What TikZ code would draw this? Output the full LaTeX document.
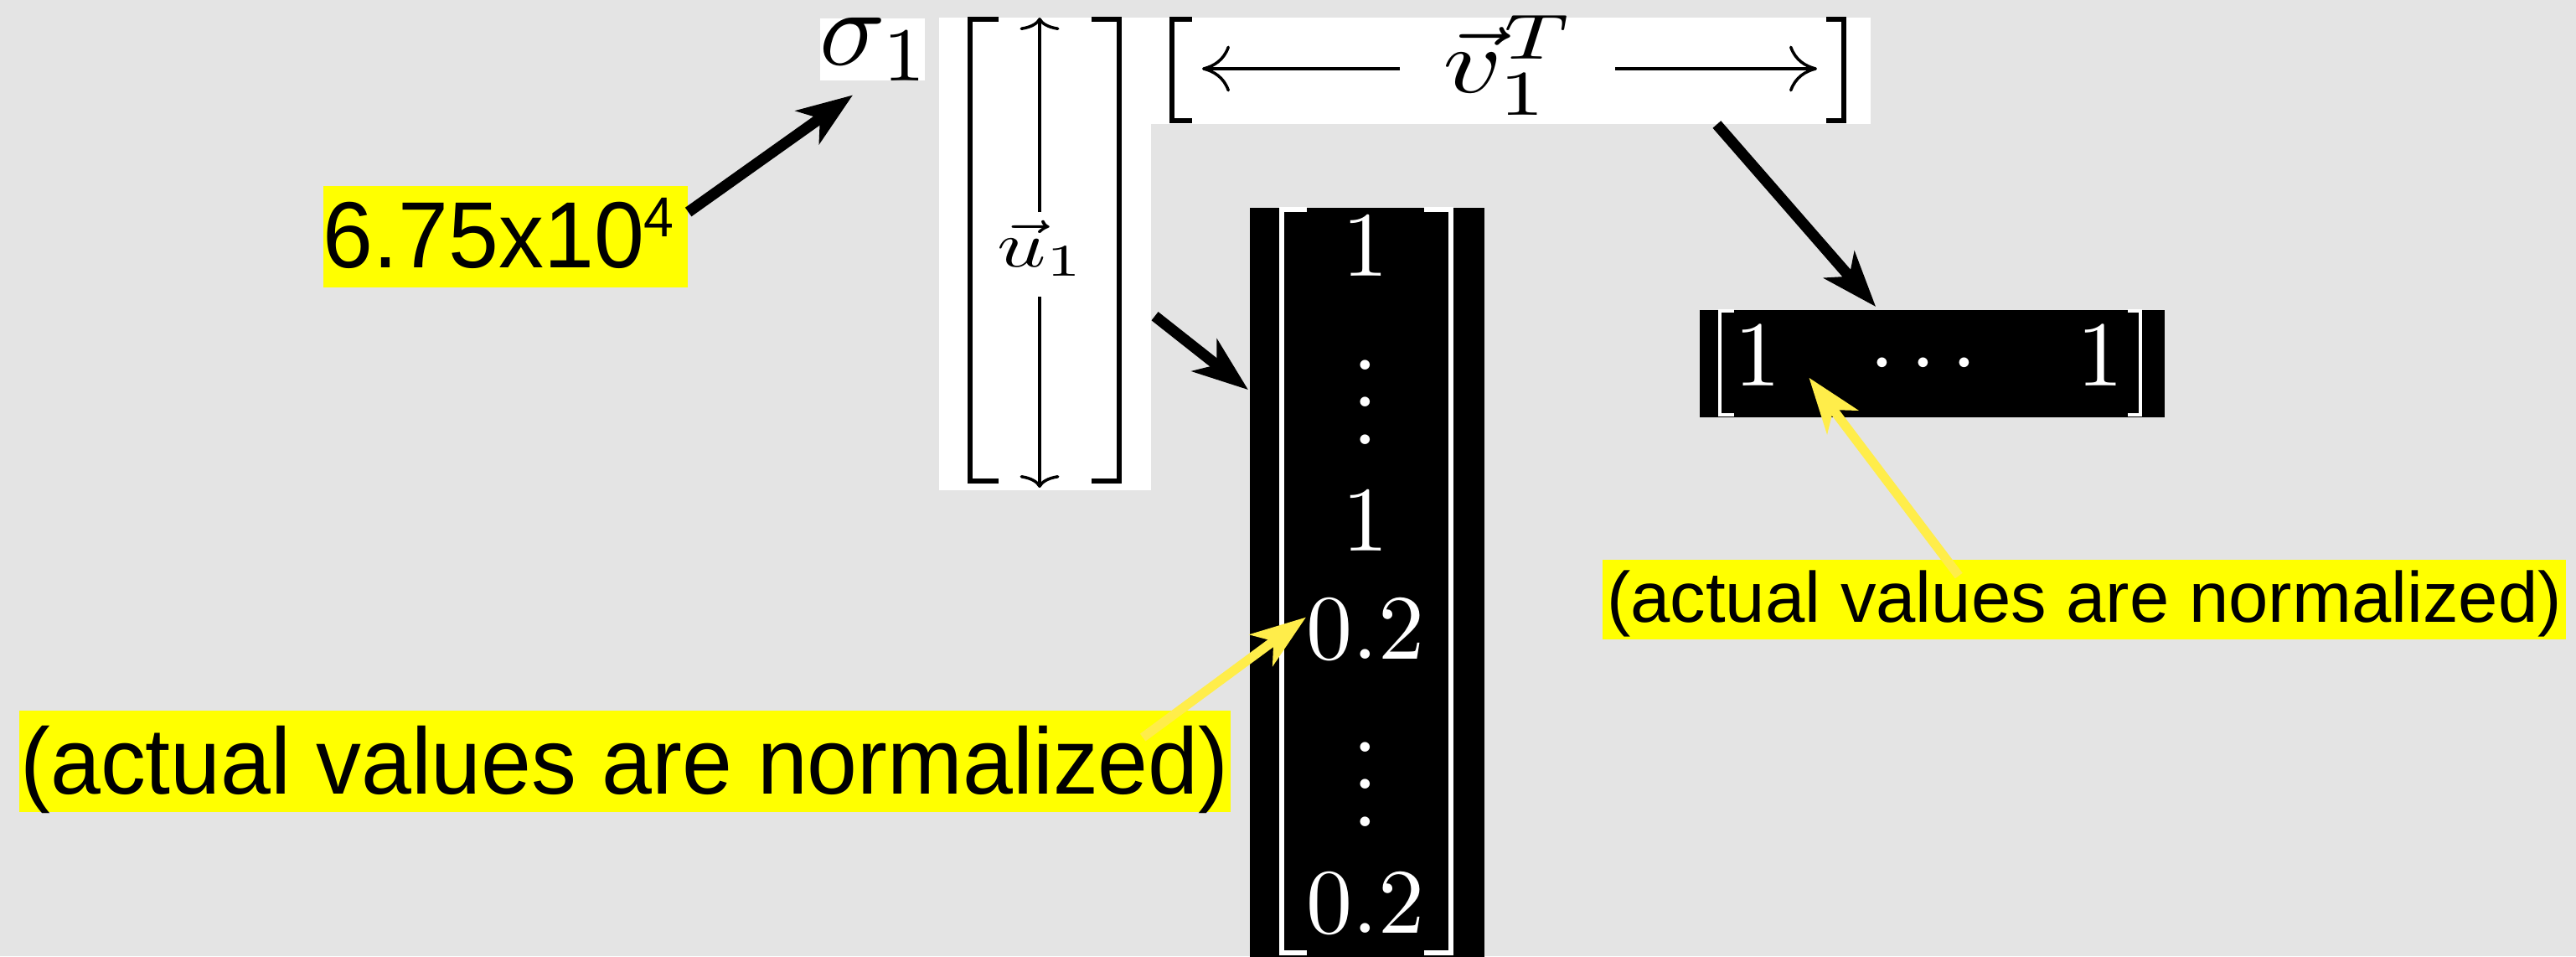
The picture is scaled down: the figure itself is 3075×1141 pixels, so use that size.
\documentclass[tikz,border=0pt]{standalone}
\usepackage{fontspec}
\usepackage{graphicx}
\usetikzlibrary{arrows.meta}
\newfontfamily\arialf{Liberation Sans}
\definecolor{bg}{RGB}{228,228,228}
\definecolor{ylab}{RGB}{255,255,0}
\definecolor{yarr}{RGB}{255,237,74}
\newcommand\tightvdots{\vbox{\baselineskip4pt \lineskiplimit0pt \hbox{.}\hbox{.}\hbox{.}}}
\begin{document}
\begin{tikzpicture}[x=0.01cm, y=-0.01cm,
  whitebox/.style={fill=white, draw=none, inner sep=0, anchor=north west},
  blackbox/.style={fill=black, draw=none, inner sep=0, anchor=north west},
  brk/.style={line width=0.06cm},
  wbrk/.style={white, line width=0.06cm},
  uarr/.style={line width=0.035cm, -{To[length=0.15cm,width=0.47cm]}},
  varr/.style={line width=0.035cm, -{To[length=0.33cm,width=0.55cm]}},
  ent/.style={text=white, inner sep=0, anchor=base},
  blackarrow/.style={line width=0.13cm, -{Stealth[length=0.66cm,width=0.48cm,inset=0.18cm]}},
  yellowarrow/.style={yarr, line width=0.11cm, -{Stealth[length=0.66cm,width=0.46cm,inset=0.18cm]}},
  hl/.style={fill=ylab, inner sep=0, anchor=north west, font=\arialf}
]
\fill[bg] (0,0) rectangle (3075,1141);
\useasboundingbox (0,0) rectangle (3075,1141);

% sigma box
\node[whitebox, minimum width=1.25cm, minimum height=0.74cm] (sigbox) at (978,21) {};
\node[inner sep=0, anchor=base west] (sig) at (978,77) {\scalebox{3.7}{$\sigma_1$}};

% u box
\node[whitebox, minimum width=2.53cm, minimum height=5.64cm] (ubox) at (1120,20) {};
\draw[brk] (1192,23) -- (1158,23) -- (1158,574) -- (1192,574);
\draw[brk] (1303,23) -- (1336,23) -- (1336,574) -- (1303,574);
\draw[uarr] (1241,253) -- (1241,21);
\draw[uarr] (1241,354) -- (1241,582);
\node[inner sep=0, anchor=base west] (ulab) at (1190,318) {\scalebox{2.9}[2.2]{$\vec{u}_1$}};

% v box
\node[whitebox, minimum width=8.59cm, minimum height=1.27cm] (vbox) at (1373,20) {};
\draw[brk] (1423,23) -- (1399,23) -- (1399,144) -- (1423,144);
\draw[brk] (2180,23) -- (2201,23) -- (2201,144) -- (2180,144);
\draw[varr] (1671,82) -- (1435,82);
\draw[varr] (1928,82) -- (2169,82);
\node[inner sep=0, anchor=base west] (vlab) at (1722,110) {\scalebox{3.9}[3.1]{$\vec{v}_1^T$}};

% column matrix
\node[blackbox, minimum width=2.80cm, minimum height=8.94cm] (colmat) at (1491,247) {};
\draw[wbrk] (1560,250) -- (1530,250) -- (1530,1137) -- (1560,1137);
\draw[wbrk] (1700,250) -- (1732,250) -- (1732,1137) -- (1700,1137);
\node[ent] (c1) at (1630,329) {\scalebox{3.13}{$1$}};
\node[ent] (cd1) at (1630,530) {\scalebox{3.13}{\tightvdots}};
\node[ent] (c2) at (1630,657) {\scalebox{3.13}{$1$}};
\node[ent] (c3) at (1630,786) {\scalebox{3.13}{$0.2$}};
\node[ent] (cd2) at (1630,986) {\scalebox{3.13}{\tightvdots}};
\node[ent] (c4) at (1630,1113) {\scalebox{3.13}{$0.2$}};

% row matrix
\node[blackbox, minimum width=5.55cm, minimum height=1.28cm] (rowmat) at (2028,369) {};
\draw[wbrk, line width=0.045cm] (2070,371) -- (2053,371) -- (2053,495) -- (2070,495);
\draw[wbrk, line width=0.045cm] (2540,371) -- (2555,371) -- (2555,495) -- (2540,495);
\node[ent] (r1) at (2098,460) {\scalebox{3.15}{$1$}};
\node[ent] (rd) at (2296,460) {\scalebox{3.15}{$\cdots$}};
\node[ent] (r2) at (2507,460) {\scalebox{3.15}{$1$}};

% labels
\node[hl, text height=0.98cm, text depth=0.23cm] (lab675) at (385,221)
  {\makebox[4.35cm][l]{\scalebox{0.96}[1]{\fontsize{31.9pt}{32pt}\selectfont 6.75x10\raisebox{0.37cm}{\fontsize{19.1pt}{20pt}\selectfont 4}}}};
\node[hl, text height=1.0cm, text depth=0.21cm] (lab1) at (22,847)
  {\makebox[14.45cm][c]{\scalebox{0.96}[1]{\fontsize{31.9pt}{32pt}\selectfont (actual values are normalized)}}};
\node[hl, text height=0.75cm, text depth=0.2cm] (lab2) at (1912,667)
  {\makebox[11.5cm][c]{\fontsize{24.2pt}{25pt}\selectfont (actual values are normalized)}};

% connectors
\draw[blackarrow] ([yshift=-0.32cm]lab675.north east) -- ([xshift=0.40cm,yshift=-0.17cm]sigbox.south west);
\draw[blackarrow] ([xshift=0.04cm,yshift=-3.57cm]ubox.north east) -- ([xshift=-0.01cm,yshift=-2.18cm]colmat.north west);
\draw[blackarrow] ([xshift=6.76cm]vbox.south west) -- ([xshift=2.11cm,yshift=0.03cm]rowmat.north west);
\draw[yellowarrow] ([xshift=-1.05cm,yshift=-0.33cm]lab1.north east) -- ([yshift=0.14cm]c3.west);
\draw[yellowarrow] ([xshift=4.26cm,yshift=-0.2cm]lab2.north west) -- ([xshift=0.33cm,yshift=0.10cm]r1.south east);
\end{tikzpicture}
\end{document}
